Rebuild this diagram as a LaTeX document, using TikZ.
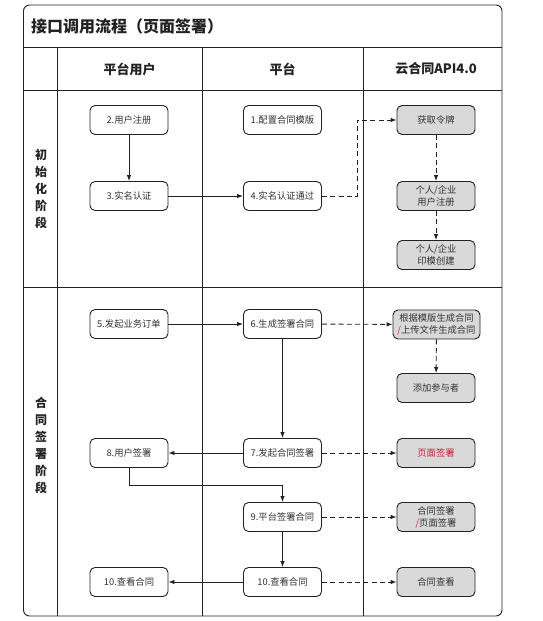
\documentclass[tikz,border=0pt]{standalone}
\usepackage{fontspec}
\setmainfont{Noto Sans CJK SC}
\usetikzlibrary{arrows.meta}
\definecolor{lc}{HTML}{222222}
\definecolor{tc}{HTML}{333333}
\definecolor{gfill}{HTML}{D9D9D9}
\definecolor{redt}{HTML}{C8203A}
\tikzset{
  box/.style={draw=lc, line width=0.9pt, rounded corners=5pt, minimum width=78pt, minimum height=29pt, inner sep=1pt, align=center, text=tc, font=\fontsize{9.3}{11}\selectfont},
  gbox/.style={box, fill=gfill},
  solidarrow/.style={draw=lc, line width=0.9pt, -{Latex[length=6pt,width=4.5pt]}},
  dasharrow/.style={draw=lc, line width=0.9pt, dash pattern=on 5pt off 3.3pt, -{Latex[length=6pt,width=4.5pt]}},
  frame/.style={draw=lc, line width=0.9pt},
  hdr/.style={font=\bfseries\fontsize{13}{15}\selectfont, text=lc},
  phase/.style={font=\bfseries\fontsize{12}{17}\selectfont, text=lc, align=center}
}
\begin{document}
\begin{tikzpicture}[x=1pt,y=-1pt]
\useasboundingbox (0,0) rectangle (543,621);
\fill[white] (0,0) rectangle (543,621);
% frame
\draw[frame, rounded corners=6pt] (23.5,5) rectangle (502,616);
\draw[frame] (23.5,47) -- (502,47);
\draw[frame] (23.5,90) -- (502,90);
\draw[frame] (23.5,287) -- (502,287);
\draw[frame] (57,47) -- (57,616);
\draw[frame] (202,47) -- (202,616);
\draw[frame] (363,47) -- (363,616);
% title and headers
\node[anchor=west, font=\bfseries\fontsize{16}{18}\selectfont, text=lc, inner sep=0pt] (title) at (31,26) {接口调用流程（页面签署）};
\node[hdr] (h1) at (129.5,69) {平台用户};
\node[hdr] (h2) at (282.5,69) {平台};
\node[hdr] (h3) at (436,69) {云合同API4.0};
\node[phase] (p1) at (41,189) {初\\始\\化\\阶\\段};
\node[phase] (p2) at (41,445) {合\\同\\签\\署\\阶\\段};
% phase 1
\node[box] (n2) at (129,120) {2.用户注册};
\node[box] (n3) at (129,196) {3.实名认证};
\node[box] (n1) at (282.5,120) {1.配置合同模版};
\node[box] (n4) at (282.5,196) {4.实名认证通过};
\node[gbox] (a1) at (436,120) {获取令牌};
\node[gbox, font=\fontsize{9.3}{12}\selectfont] (a2) at (436,196) {个人/企业\\用户注册};
\node[gbox, font=\fontsize{9.3}{12}\selectfont] (a3) at (436,255) {个人/企业\\印模创建};
\coordinate (k1) at (357,158);
% phase 2
\node[box] (n5) at (129,324) {5.发起业务订单};
\node[box] (n6) at (282.5,324) {6.生成签署合同};
\node[gbox, minimum width=87pt, font=\fontsize{9.3}{12}\selectfont] (b1) at (436.5,324.5) {根据模版生成合同\\{\color{redt}/}上传文件生成合同};
\node[gbox] (b2) at (436,388) {添加参与者};
\node[box] (n8) at (129,453) {8.用户签署};
\node[box] (n7) at (282.5,453) {7.发起合同签署};
\node[gbox, text=redt] (b3) at (436,453) {页面签署};
\node[box] (n9) at (282.5,517) {9.平台签署合同};
\node[gbox, font=\fontsize{9.3}{12}\selectfont] (b4) at (436,517) {合同签署\\{\color{redt}/}页面签署};
\node[box] (n10a) at (129,582) {10.查看合同};
\node[box] (n10b) at (282.5,582) {10.查看合同};
\node[gbox] (b5) at (436,582) {合同查看};
\coordinate (k2) at (200,485);
% connectors phase 1
\draw[solidarrow] (n2) -- (n3);
\draw[solidarrow] (n3) -- (n4);
\draw[dasharrow] (n4.east) -- (n4.east -| k1) -- (a1.west -| k1) -- (a1.west);
\draw[dasharrow] (a1) -- (a2);
\draw[dasharrow] (a2) -- (a3);
% connectors phase 2
\draw[solidarrow] (n5) -- (n6);
\draw[dasharrow] (n6) -- (b1);
\draw[dasharrow] (b1) -- (b2);
\draw[solidarrow] (n6) -- (n7);
\draw[solidarrow] (n7) -- (n8);
\draw[dasharrow] (n7) -- (b3);
\draw[solidarrow] (n8.south) -- (n8.south |- k2) -- (n9.north |- k2) -- (n9.north);
\draw[dasharrow] (n9) -- (b4);
\draw[solidarrow] (n9) -- (n10b);
\draw[solidarrow] (n10b) -- (n10a);
\draw[dasharrow] (n10b) -- (b5);
\end{tikzpicture}
\end{document}
